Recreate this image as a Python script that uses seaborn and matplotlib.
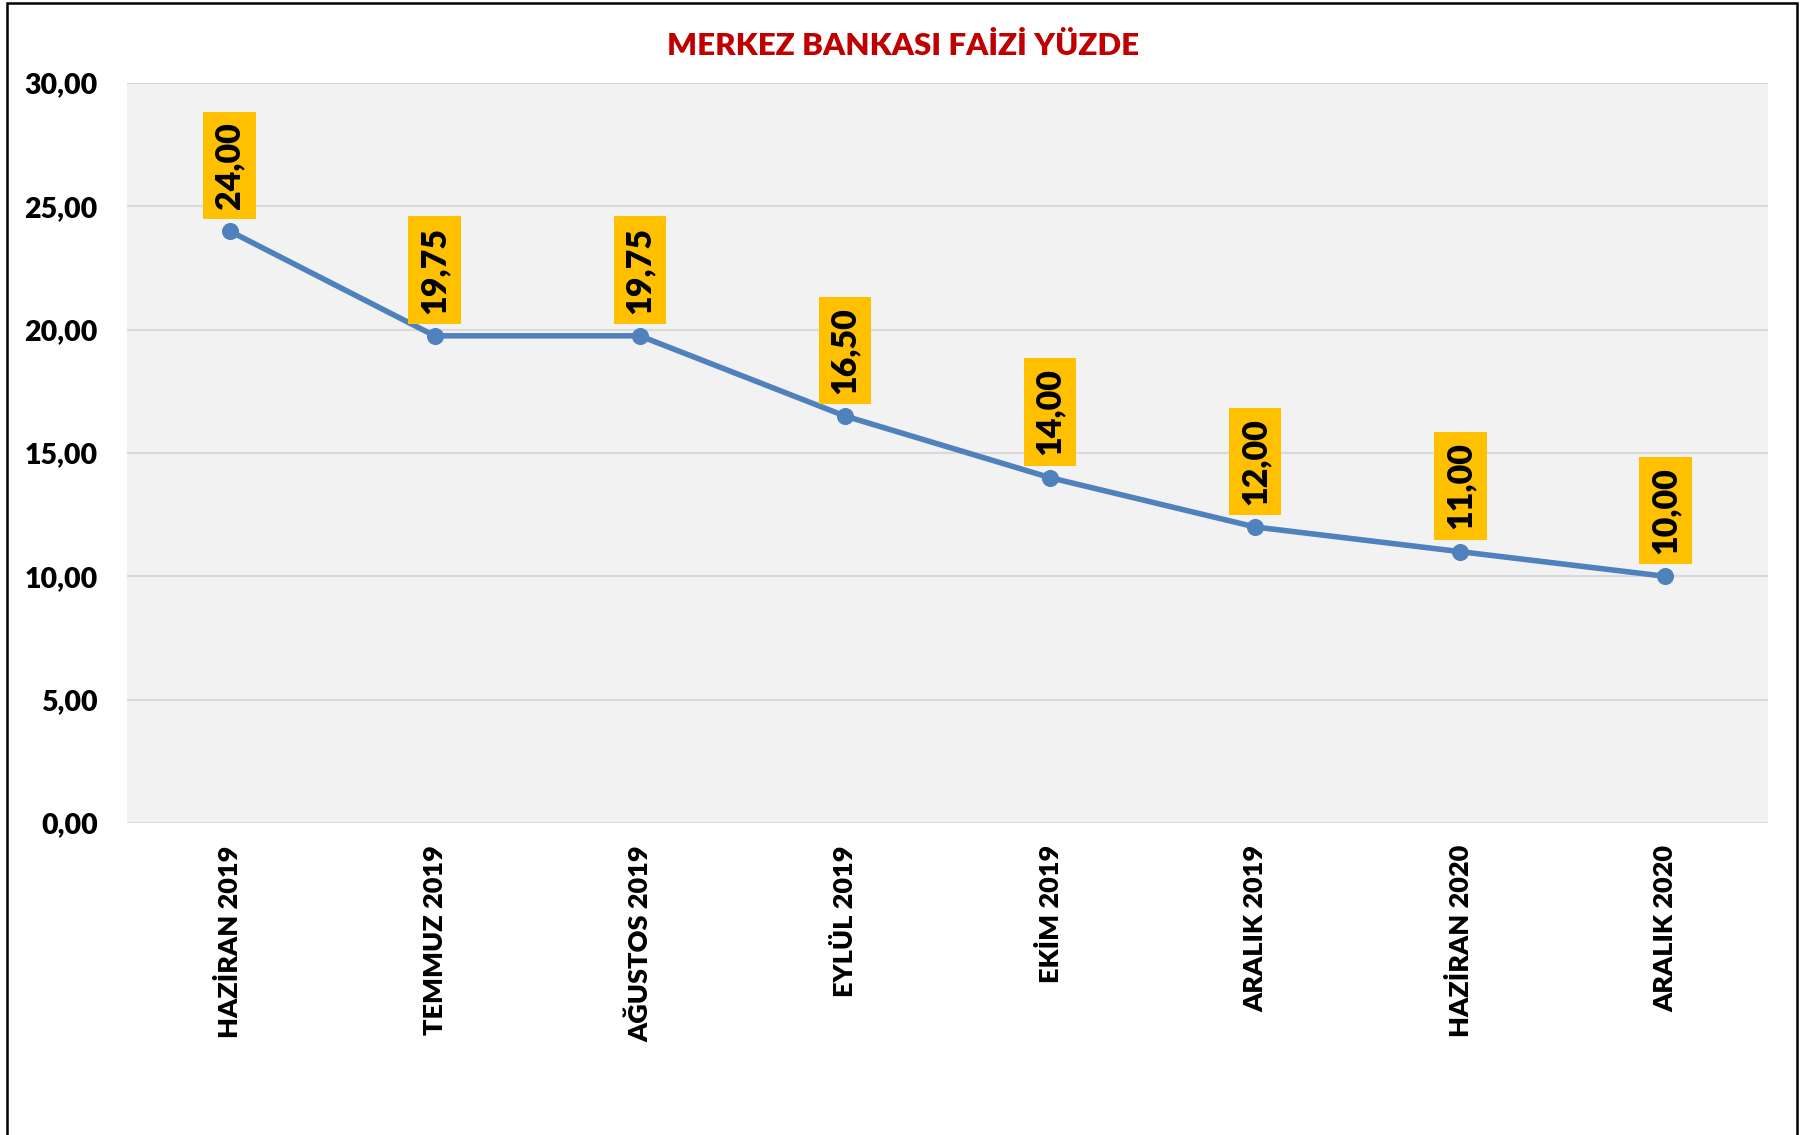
import matplotlib
matplotlib.use("Agg")
import matplotlib.pyplot as plt
from matplotlib.patches import Rectangle
from matplotlib.ticker import FuncFormatter, MultipleLocator
import pandas as pd
import seaborn as sns

# -----------------------------
# Data
# -----------------------------
months = ["HAZİRAN 2019", "TEMMUZ 2019", "AĞUSTOS 2019", "EYLÜL 2019",
          "EKİM 2019", "ARALIK 2019", "HAZİRAN 2020", "ARALIK 2020"]
rates = [24.00, 19.75, 19.75, 16.50, 14.00, 12.00, 11.00, 10.00]
title = "MERKEZ BANKASI FAİZİ YÜZDE"

df = pd.DataFrame({"ay": months, "faiz": rates})

# -----------------------------
# Style
# -----------------------------
sns.set_style("whitegrid", {
    "axes.facecolor": "#F2F2F2",
    "grid.color": "#D9D9D9",
    "axes.edgecolor": "#F2F2F2",
})
plt.rcParams["font.family"] = ["Lato", "DejaVu Sans"]

line_color = "#4F81BD"
label_bg = "#FFC000"

fig = plt.figure(figsize=(18.1, 11.35), dpi=100)
ax = fig.add_axes([127 / 1810, 1 - 823 / 1135, (1768 - 127) / 1810, (823 - 83) / 1135])

sns.lineplot(data=df, x="ay", y="faiz", sort=False, ax=ax,
             color=line_color, linewidth=4, marker="o", markersize=11.5,
             markeredgecolor=line_color)

ax.set_xlim(-0.5, len(months) - 0.5)
ax.set_ylim(0, 30)
ax.yaxis.set_major_locator(MultipleLocator(5))
ax.yaxis.set_major_formatter(FuncFormatter(lambda v, p: f"{v:.2f}".replace(".", ",")))
ax.grid(axis="x", visible=False)
ax.grid(axis="y", linewidth=1.5)
for s in ax.spines.values():
    s.set_visible(False)

ax.set_xlabel("")
ax.set_ylabel("")
ax.tick_params(axis="x", length=0, pad=16, labelsize=19.5, rotation=90)
ax.tick_params(axis="y", length=0, pad=21, labelsize=20.5)
for lbl in ax.get_xticklabels() + ax.get_yticklabels():
    lbl.set_fontweight("heavy")
    lbl.set_color("black")
for lbl in ax.get_xticklabels():
    lbl.set_va("top")

# value labels in gold boxes
for i, v in enumerate(rates):
    ax.annotate(f"{v:.2f}".replace(".", ","), xy=(i, v), xytext=(0, 16),
                textcoords="offset points", rotation=90, ha="center", va="bottom",
                fontsize=24.5, fontweight="heavy", color="black",
                bbox=dict(boxstyle="square,pad=0.3", facecolor=label_bg, edgecolor="none"))

fig.text(903 / 1810, 1 - 46 / 1135, title, ha="center", va="center",
         fontsize=22.5, fontweight="heavy", color="#C00000")

# outer frame (open at the bottom, as in the source image)
fig.patches.append(Rectangle((7 / 1810, -0.05), (1797 - 7) / 1810, 1.05 - 3 / 1135,
                             transform=fig.transFigure, fill=False,
                             edgecolor="black", linewidth=1.8, clip_on=False))

fig.savefig("out.png", dpi=100)
